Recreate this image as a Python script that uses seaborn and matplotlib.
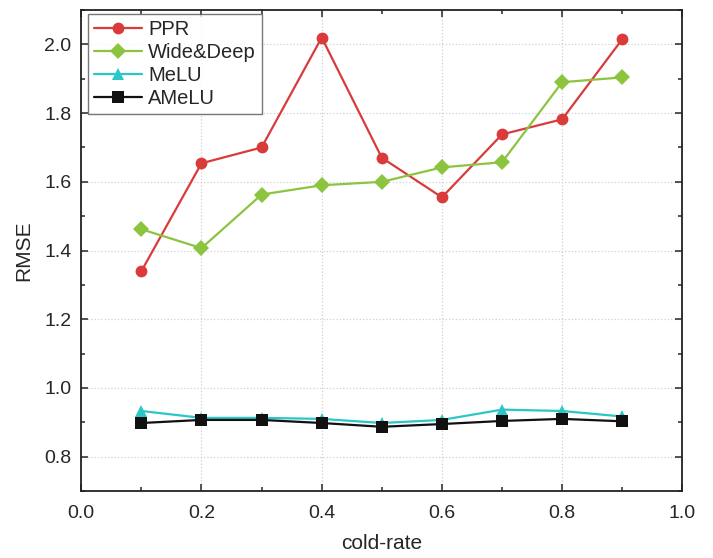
import matplotlib.pyplot as plt
import numpy as np
import pandas as pd
import seaborn as sns
from matplotlib.ticker import MultipleLocator

cold_rate = [0.1, 0.2, 0.3, 0.4, 0.5, 0.6, 0.7, 0.8, 0.9]
ppr = [1.34, 1.654, 1.70, 2.02, 1.67, 1.555, 1.738, 1.782, 2.015]
wide_deep = [1.462, 1.407, 1.563, 1.59, 1.60, 1.642, 1.657, 1.89, 1.904]
melu = [0.933, 0.913, 0.913, 0.91, 0.898, 0.907, 0.937, 0.933, 0.917]
amelu = [0.898, 0.907, 0.907, 0.898, 0.887, 0.895, 0.904, 0.91, 0.903]

series = {"PPR": ppr, "Wide&Deep": wide_deep, "MeLU": melu, "AMeLU": amelu}
colors = {"PPR": "#d93b3b", "Wide&Deep": "#8cc43f", "MeLU": "#2cc6c6", "AMeLU": "#111111"}
markers = {"PPR": "o", "Wide&Deep": "D", "MeLU": "^", "AMeLU": "s"}

df = pd.concat(
    [pd.DataFrame({"cold-rate": cold_rate, "RMSE": v, "model": k}) for k, v in series.items()]
)

sns.set_style("ticks")
plt.rcParams["font.family"] = ["Liberation Sans", "DejaVu Sans"]

fig = plt.figure(figsize=(7.13, 5.58), dpi=100)
ax = fig.add_axes([0.114, 0.12, 0.843, 0.862])

sns.lineplot(
    data=df,
    x="cold-rate",
    y="RMSE",
    hue="model",
    style="model",
    palette=colors,
    markers=markers,
    dashes=False,
    markersize=8.5,
    linewidth=1.6,
    markeredgewidth=0,
    ax=ax,
)

ax.set_xlim(0.0, 1.0)
ax.set_ylim(0.7, 2.1)
ax.xaxis.set_major_locator(MultipleLocator(0.2))
ax.xaxis.set_minor_locator(MultipleLocator(0.1))
ax.set_yticks(np.arange(0.8, 2.01, 0.2))
ax.yaxis.set_minor_locator(MultipleLocator(0.1))
ax.grid(True, which="major", linestyle=":", color="#d0d0d0", linewidth=0.9)
ax.tick_params(which="both", direction="in", top=True, right=True, labelsize=14, width=1.1)
ax.tick_params(which="major", length=5)
ax.tick_params(which="minor", length=3)
ax.tick_params(axis="x", which="major", pad=10)
ax.tick_params(axis="y", which="major", pad=7)
for s in ax.spines.values():
    s.set_linewidth(1.3)
    s.set_color("#222222")

ax.set_xlabel("cold-rate", fontsize=15, labelpad=9)
ax.set_ylabel("RMSE", fontsize=15, labelpad=8)

leg = ax.legend(
    loc="upper left",
    fontsize=14.5,
    frameon=True,
    fancybox=False,
    edgecolor="#555555",
    borderpad=0.3,
    labelspacing=0.2,
    handlelength=2.4,
    handletextpad=0.3,
    borderaxespad=0.0,
    bbox_to_anchor=(0.011, 0.992),
    title=None,
)
leg.get_frame().set_linewidth(1.0)

fig.savefig("out.png", dpi=100)
